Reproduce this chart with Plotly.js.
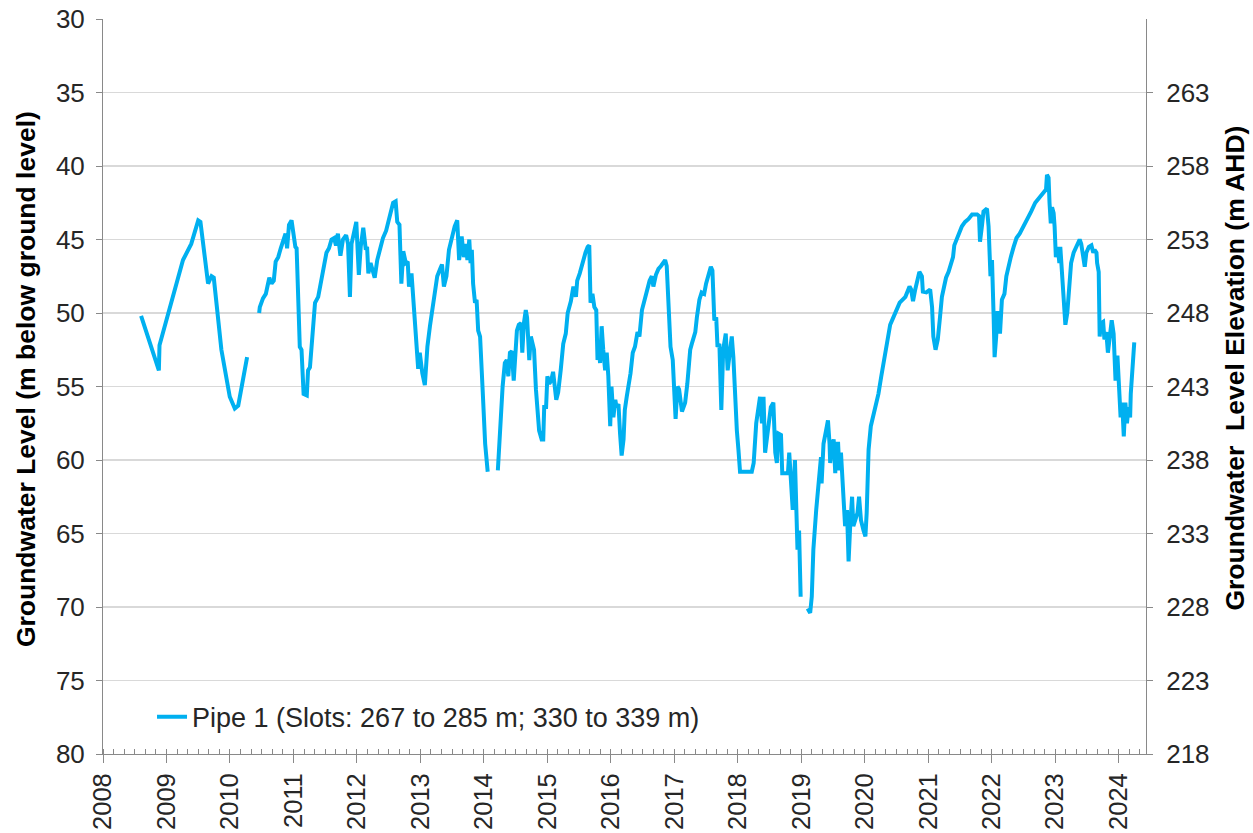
<!DOCTYPE html>
<html>
<head>
<meta charset="utf-8">
<script src="https://cdn.plot.ly/plotly-3.0.1.min.js"></script>
<style>html,body{margin:0;padding:0;background:#fff;}#chart{width:1253px;height:833px;}</style>
</head>
<body>
<div id="chart"></div>
<script>
// Decimal-year dates of readings (null = gap in record)
const years = [
2008.60,2008.88,2008.89,2009.26,2009.39,2009.50,2009.535,2009.655,2009.71,2009.745,2009.865,2009.997,2010.076,2010.13,2010.27,
2010.37,
2010.46,2010.47,2010.52,2010.565,2010.59,2010.62,2010.655,2010.69,2010.72,2010.76,2010.80,2010.84,2010.875,2010.90,2010.93,2010.97,
2011.006,2011.03,2011.05,2011.10,2011.127,2011.16,2011.21,2011.23,2011.26,2011.34,2011.39,2011.43,2011.47,2011.52,2011.56,2011.60,
2011.64,2011.67,2011.70,2011.74,2011.78,2011.83,2011.86,2011.89,2011.915,2011.95,2011.99,
2012.03,2012.06,2012.10,2012.14,2012.16,2012.18,2012.215,2012.246,2012.28,2012.32,2012.36,2012.41,2012.46,2012.49,2012.53,2012.57,
2012.61,2012.635,2012.67,2012.69,2012.70,2012.73,2012.77,2012.80,2012.82,2012.86,2012.89,2012.91,2012.94,2012.965,2012.99,
2013.03,2013.07,2013.11,2013.15,2013.20,2013.265,2013.31,2013.34,2013.37,2013.41,2013.45,2013.50,2013.54,2013.58,2013.61,2013.65,
2013.685,2013.72,2013.74,2013.77,2013.79,2013.81,2013.83,2013.86,2013.885,2013.91,2013.94,2013.98,2014.02,2014.06,
2014.14,
2014.22,2014.25,2014.295,2014.33,2014.36,2014.385,2014.41,2014.44,2014.47,2014.52,2014.55,2014.585,2014.605,2014.63,2014.66,2014.68,
2014.70,2014.715,2014.74,2014.77,2014.79,2014.82,2014.84,2014.87,2014.91,2014.935,2014.95,2014.98,
2015.00,2015.03,2015.06,2015.09,2015.14,2015.17,2015.21,2015.25,2015.29,2015.32,2015.37,2015.41,2015.45,2015.47,2015.51,2015.56,
2015.60,2015.635,2015.66,2015.68,2015.71,2015.74,2015.77,2015.79,2015.81,2015.83,2015.855,2015.88,2015.91,2015.935,2015.96,2015.99,
2016.01,2016.04,2016.07,2016.09,2016.12,2016.145,2016.17,2016.20,2016.22,2016.25,2016.29,2016.31,2016.345,2016.38,2016.42,2016.45,
2016.49,2016.52,2016.565,2016.61,2016.645,2016.67,2016.71,2016.75,2016.79,2016.83,2016.855,2016.88,2016.90,2016.92,2016.94,2016.975,
2017.00,2017.02,2017.05,2017.075,2017.12,2017.17,2017.205,2017.25,2017.275,2017.30,2017.33,2017.355,2017.395,2017.43,2017.47,2017.50,
2017.54,2017.575,2017.60,2017.63,2017.66,2017.68,2017.71,2017.74,2017.77,2017.81,2017.84,2017.88,2017.905,2017.93,2017.96,2017.985,
2018.01,2018.035,2018.22,2018.25,2018.29,2018.325,2018.35,2018.38,2018.405,2018.43,2018.46,2018.50,2018.52,2018.56,2018.59,2018.615,
2018.64,2018.68,2018.70,2018.745,2018.79,2018.81,2018.835,2018.865,2018.90,2018.93,2018.94,2018.965,2018.99,
2019.05,
2019.10,2019.14,2019.165,2019.19,2019.235,2019.27,2019.30,2019.31,2019.32,2019.35,2019.39,2019.42,2019.445,2019.455,2019.48,2019.51,
2019.535,2019.55,2019.58,2019.60,2019.625,2019.65,2019.675,2019.69,2019.72,2019.745,2019.77,2019.80,2019.82,2019.85,2019.885,2019.91,
2019.94,2019.98,2020.01,2020.03,2020.06,2020.095,2020.13,2020.16,2020.19,2020.215,2020.26,2020.305,2020.35,2020.40,2020.44,2020.495,
2020.55,2020.64,2020.705,2020.73,2020.76,2020.795,2020.83,2020.86,2020.90,2020.915,2020.97,
2021.03,2021.06,2021.08,2021.115,2021.15,2021.18,2021.215,2021.25,2021.28,2021.32,2021.36,2021.39,2021.41,2021.45,2021.49,2021.53,
2021.58,2021.635,2021.69,2021.77,2021.80,2021.815,2021.845,2021.87,2021.925,2021.95,2021.98,
2022.004,2022.03,2022.045,2022.07,2022.09,2022.12,2022.13,2022.16,2022.20,2022.23,2022.265,2022.30,2022.345,2022.39,2022.44,2022.49,
2022.555,2022.62,2022.685,2022.755,2022.82,2022.855,2022.87,2022.895,2022.91,2022.93,2022.95,2022.975,2022.99,
2023.01,2023.04,2023.065,2023.08,2023.11,2023.135,2023.16,2023.19,2023.21,2023.25,2023.29,2023.345,2023.385,2023.41,2023.44,2023.465,
2023.49,2023.53,2023.57,2023.60,2023.62,2023.65,2023.66,2023.685,2023.70,2023.72,2023.755,2023.775,2023.805,2023.83,2023.86,2023.89,
2023.92,2023.95,2023.98,2024.00,2024.03,2024.055,2024.08,2024.105,2024.13,2024.155,2024.18,2024.19,2024.22,2024.245
];

// Groundwater level, m below ground level
const levels = [
50.2,53.9,52.2,46.4,45.3,43.7,43.8,48.0,47.5,47.6,52.5,55.7,56.5,56.3,53.0,
null,
50.0,49.6,49.0,48.7,48.2,47.6,48.0,47.8,46.5,46.2,45.6,45.0,44.6,45.6,44.0,43.7,
44.6,45.5,45.6,52.3,52.5,55.5,55.6,53.9,53.7,49.3,48.9,48.0,47.1,45.9,45.6,45.0,
44.9,45.4,44.6,46.1,45.0,44.7,45.3,48.9,45.3,44.6,43.8,
47.4,45.5,44.2,45.7,45.5,47.3,46.6,47.1,47.6,46.4,45.7,44.9,44.4,43.9,43.4,42.5,
42.4,43.8,44.0,45.9,48.0,45.8,46.6,46.5,48.2,47.3,49.1,50.7,52.5,53.8,52.7,
54.1,54.9,52.3,50.9,49.3,47.5,47.0,46.7,48.2,47.5,45.7,44.8,44.1,43.7,46.4,44.8,
46.2,45.3,46.4,45.0,46.6,45.7,48.0,49.3,49.1,51.2,51.6,55.2,58.9,60.8,
null,
60.7,58.0,55.0,53.4,53.2,54.3,52.7,52.6,54.6,51.2,50.8,50.7,52.7,50.7,49.8,50.3,
51.6,53.2,51.6,52.1,52.5,55.2,56.6,58.0,58.6,58.6,56.4,56.4,
54.3,54.8,54.6,54.0,55.9,55.4,53.9,52.1,51.4,50.0,49.2,48.2,48.9,47.8,47.3,46.4,
45.9,45.5,45.4,49.3,48.7,49.6,49.8,53.2,52.3,53.4,50.9,52.5,53.9,52.7,54.3,57.7,
55.0,57.1,55.9,56.4,56.2,58.2,59.7,58.6,56.6,55.7,54.6,54.1,52.7,52.3,51.3,51.6,
49.8,49.3,48.4,47.8,47.5,48.2,47.4,47.0,46.8,46.6,46.4,46.8,49.1,50.7,52.3,53.2,
55.2,57.2,55.0,55.2,56.7,56.1,54.8,52.5,52.1,51.7,51.3,50.3,49.1,48.6,48.7,48.0,
47.3,46.85,47.1,50.5,50.3,52.3,52.1,56.6,52.5,51.4,53.9,52.5,51.6,53.0,56.6,58.0,
59.3,60.8,60.8,60.2,57.5,56.4,55.7,57.5,55.7,59.5,58.4,57.1,56.4,56.1,59.5,60.2,
58.2,58.3,60.9,60.9,60.9,59.5,61.6,63.4,60.0,64.5,66.1,64.8,69.3,
null,
70.1,70.4,69.3,66.1,63.4,61.6,60.2,59.8,61.6,58.9,58.0,57.3,58.9,60.2,59.1,58.6,
60.9,58.9,58.9,60.7,59.5,61.4,62.3,64.5,63.4,66.9,64.5,62.5,64.5,64.1,63.6,62.5,
64.1,64.8,65.2,63.6,59.3,57.7,57.1,56.6,55.9,55.5,54.3,53.2,51.8,50.8,50.4,49.9,
49.3,48.9,48.2,48.4,49.2,48.4,47.6,47.2,47.5,48.55,48.6,
48.4,49.6,51.6,52.5,51.8,50.5,48.9,48.2,47.6,47.2,46.6,46.2,45.4,44.9,44.6,44.1,
43.8,43.6,43.3,43.3,43.4,45.15,44.1,43.1,42.9,44.1,47.5,
46.4,50.25,53.0,51.6,50.0,50.0,51.4,49.1,48.7,47.5,46.7,46.2,45.5,44.9,44.6,44.2,
43.7,43.1,42.5,42.1,41.75,41.6,40.6,40.8,42.5,43.9,42.8,43.2,44.1,
46.2,45.5,46.6,45.5,47.5,49.1,50.8,50.0,48.7,46.6,45.9,45.3,45.0,45.3,46.2,46.85,
45.9,45.5,45.4,45.9,45.7,45.9,46.6,47.2,51.6,50.7,50.6,51.8,51.3,52.7,51.6,50.5,
51.4,54.6,52.9,54.8,57.1,56.1,58.4,56.1,57.5,56.4,57.1,55.5,53.4,52.0
];

const leftTicks = [30,35,40,45,50,55,60,65,70,75,80];
const rightTicks = [218,223,228,233,238,243,248,253,258,263];
const yearTicks = [2008,2009,2010,2011,2012,2013,2014,2015,2016,2017,2018,2019,2020,2021,2022,2023,2024];

const seriesName = 'Pipe 1 (Slots: 267 to 285 m; 330 to 339 m)';
const leftTitle = '&nbsp;&nbsp;Groundwater Level (m below ground level)';
const rightTitle = '&nbsp;&nbsp;&nbsp;&nbsp;&nbsp;Groundwater&nbsp; Level Elevation (m AHD)';

const FONT = 'Liberation Sans, Arial, sans-serif';
const GREY = '#898989';

const traces = [
  {
    x: years, y: levels, type: 'scatter', mode: 'lines', name: seriesName,
    line: {color: '#00B0F0', width: 4}, connectgaps: false, xaxis: 'x', yaxis: 'y'
  },
  {
    x: [years[0]], y: [null], type: 'scatter', mode: 'lines', showlegend: false,
    hoverinfo: 'skip', xaxis: 'x', yaxis: 'y2'
  }
];

const layout = {
  width: 1253, height: 833,
  margin: {l: 103, r: 107, t: 19, b: 79, pad: 0},
  paper_bgcolor: '#ffffff', plot_bgcolor: '#ffffff',
  font: {family: FONT, size: 26, color: '#262626'},
  showlegend: true,
  legend: {
    x: 0.047, y: 0.05, xanchor: 'left', yanchor: 'middle',
    bgcolor: 'rgba(0,0,0,0)', borderwidth: 0,
    font: {family: FONT, size: 27, color: '#262626'}
  },
  xaxis: {
    range: [2008, 2024.43], tickmode: 'array', tickvals: yearTicks, ticktext: yearTicks.map(String),
    tickangle: -90, ticks: 'outside', ticklen: 8, tickwidth: 1, tickcolor: GREY,
    showline: true, linecolor: GREY, linewidth: 1, showgrid: false, zeroline: false,
    tickfont: {family: FONT, size: 25.5, color: '#262626'},
    minor: {tickmode: 'linear', tick0: 2008, dtick: 1/6, ticks: 'inside', ticklen: 5, tickcolor: GREY, showgrid: false},
    fixedrange: true
  },
  yaxis: {
    range: [80, 30], tickmode: 'array', tickvals: leftTicks,
    ticks: 'outside', ticklen: 6, tickcolor: GREY, showline: true, linecolor: GREY, linewidth: 1,
    showgrid: true, gridcolor: '#d9d9d9', gridwidth: 1.5, zeroline: false,
    tickfont: {family: FONT, size: 26, color: '#262626'},
    ticklabelstandoff: 6,
    automargin: 'left',
    title: {text: leftTitle, standoff: 12, font: {family: FONT, size: 26.5, color: '#000000', weight: 'bold'}}
  },
  yaxis2: {
    overlaying: 'y', side: 'right', anchor: 'x', range: [218, 268], autorange: false,
    tickmode: 'array', tickvals: rightTicks,
    ticks: 'outside', ticklen: 6, tickcolor: GREY, showline: true, linecolor: GREY, linewidth: 1,
    showgrid: false, zeroline: false,
    tickfont: {family: FONT, size: 26, color: '#262626'},
    ticklabelstandoff: 8,
    automargin: 'right',
    title: {text: rightTitle, standoff: 16, font: {family: FONT, size: 26.5, color: '#000000', weight: 'bold'}}
  }
};

Plotly.newPlot('chart', traces, layout, {staticPlot: true, displayModeBar: false});
</script>
</body>
</html>
